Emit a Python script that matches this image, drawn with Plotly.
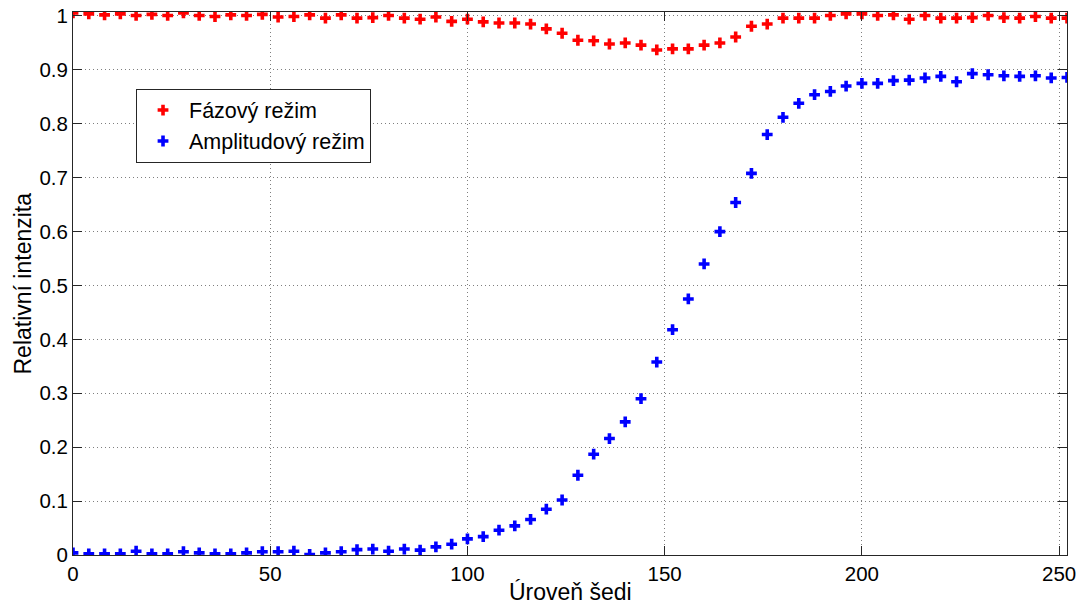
import plotly.graph_objects as go

# Data
uroven = list(range(0, 253, 4))  # 0, 4, ..., 252

fazovy = [
    1.0056, 1.004, 1.002, 1.004, 1.001, 1.003, 1.001, 1.0056, 1.001, 0.999,
    1.002, 1.001, 1.003, 0.998, 0.999, 1.002, 0.996, 1.002, 0.996, 0.997,
    1.001, 0.996, 0.994, 0.998, 0.990, 0.994, 0.989, 0.987, 0.987, 0.985,
    0.976, 0.968, 0.955, 0.954, 0.948, 0.950, 0.946, 0.937, 0.939, 0.939,
    0.946, 0.950, 0.961, 0.981, 0.985, 0.996, 0.996, 0.996, 1.001, 1.004,
    1.004, 1.001, 1.002, 0.994, 1.001, 0.996, 0.996, 0.997, 1.001, 0.997,
    0.996, 0.999, 0.996, 0.996,
]

amplitudovy = [
    0.004, 0.002, 0.002, 0.002, 0.007, 0.002, 0.002, 0.006, 0.004, 0.002,
    0.002, 0.004, 0.006, 0.006, 0.007, 0.001, 0.004, 0.006, 0.010, 0.011,
    0.007, 0.011, 0.009, 0.015, 0.020, 0.030, 0.034, 0.046, 0.054, 0.066,
    0.085, 0.102, 0.148, 0.187, 0.216, 0.247, 0.290, 0.358, 0.418, 0.475,
    0.540, 0.600, 0.654, 0.708, 0.780, 0.812, 0.838, 0.854, 0.860, 0.870,
    0.875, 0.875, 0.880, 0.881, 0.885, 0.888, 0.878, 0.893, 0.891, 0.889,
    0.888, 0.889, 0.885, 0.886,
]

series_names = ["Fázový režim", "Amplitudový režim"]
x_ticks = [0, 50, 100, 150, 200, 250]
y_ticks = [0, 0.1, 0.2, 0.3, 0.4, 0.5, 0.6, 0.7, 0.8, 0.9, 1]
y_tick_text = ["0", "0.1", "0.2", "0.3", "0.4", "0.5", "0.6", "0.7", "0.8", "0.9", "1"]
x_title = "Úroveň šedi"
y_title = "Relativní intenzita"

FONT = "Liberation Sans, Arial, sans-serif"

fig = go.Figure()
fig.add_trace(go.Scatter(
    x=uroven, y=fazovy, mode="markers", name=series_names[0],
    marker=dict(symbol="cross", size=9, color="#ff0000", line=dict(width=0)),
))
fig.add_trace(go.Scatter(
    x=uroven, y=amplitudovy, mode="markers", name=series_names[1],
    marker=dict(symbol="cross", size=9, color="#0000ff", line=dict(width=0)),
))

axis_common = dict(
    showline=True, linecolor="#262626", linewidth=1, mirror="ticks",
    ticks="inside", ticklen=9, tickcolor="#262626", tickwidth=1,
    showgrid=True, gridcolor="#7f7f7f", griddash="1px,3px", gridwidth=1,
    zeroline=False, tickfont=dict(family=FONT, size=20.5, color="black"),
    ticklabeloverflow="allow", automargin=False,
)

fig.update_xaxes(range=[0, 252], tickvals=x_ticks, **axis_common)
fig.update_yaxes(range=[0, 1.0074], tickvals=y_ticks, ticktext=y_tick_text, **axis_common)

# Plot area at page pixels x 73..1067, y 12..555 (body margin removed below).
fig.update_layout(
    width=1084, height=607,
    margin=dict(l=73, r=17, t=12, b=52, autoexpand=False),
    paper_bgcolor="white", plot_bgcolor="white",
    font=dict(family=FONT, size=21, color="black"),
    showlegend=True,
    legend=dict(
        x=0.0634, y=0.859, xanchor="left", yanchor="top",
        bgcolor="white", bordercolor="#262626", borderwidth=1,
        font=dict(family=FONT, size=21.5, color="black"),
        itemwidth=42, tracegroupgap=0,
    ),
    annotations=[
        dict(text=x_title, xref="paper", yref="paper",
             x=0.5, y=-0.068,
             xanchor="center", yanchor="middle", showarrow=False,
             font=dict(family=FONT, size=23, color="black")),
        dict(text=y_title, xref="paper", yref="paper",
             x=-0.0513, y=0.5,
             xanchor="center", yanchor="middle", showarrow=False, textangle=-90,
             font=dict(family=FONT, size=23, color="black")),
    ],
)

fig.write_html(
    "out.html",
    config={"displayModeBar": False},
    post_script="document.body.style.margin='0';document.body.style.overflow='hidden';",
)
